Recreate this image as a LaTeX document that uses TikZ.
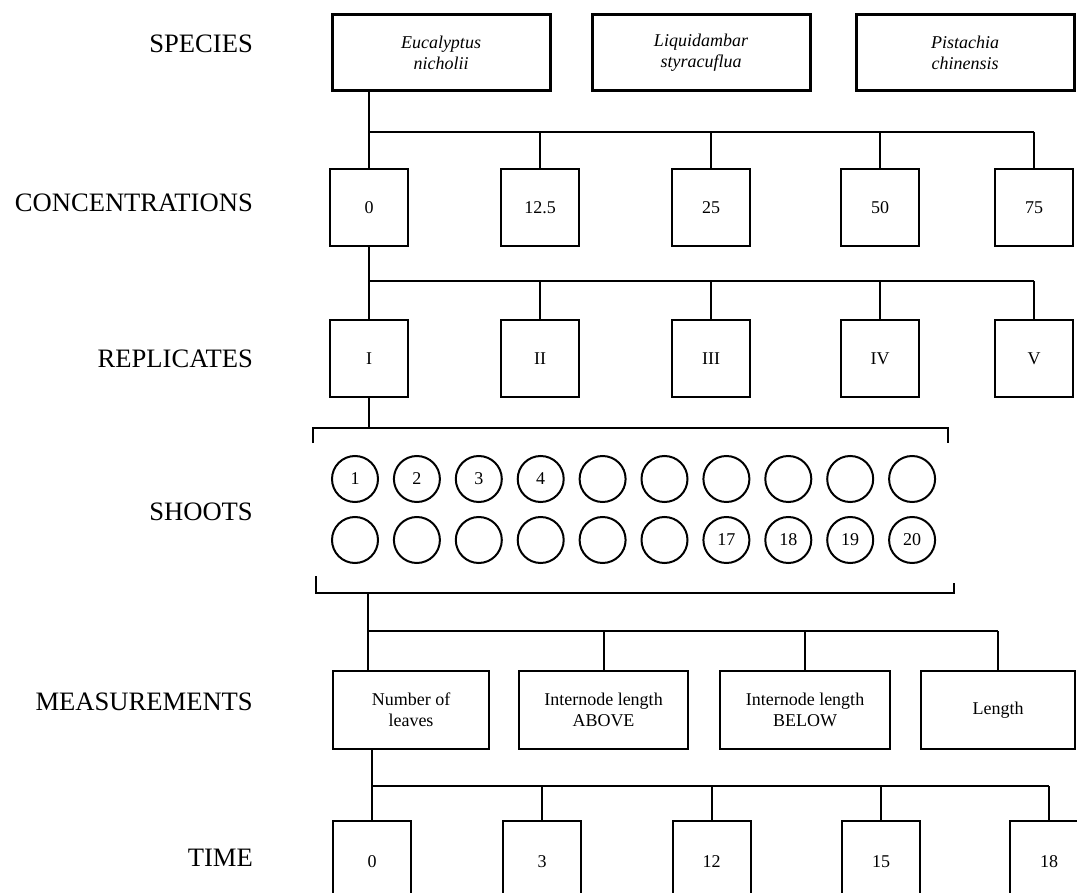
\documentclass[tikz,border=0pt]{standalone}
\usepackage{fontspec}
\setmainfont{Liberation Serif}
\begin{document}
\begin{tikzpicture}[x=1pt,y=-1pt,
  lab/.style={anchor=east,font=\fontsize{26.6}{30}\selectfont,inner sep=0pt},
  spbox/.style={draw,line width=3pt,minimum width=218pt,minimum height=76pt,align=center,font=\fontsize{18}{21}\selectfont\itshape,inner sep=0pt},
  sqbox/.style={draw,line width=2pt,minimum width=78pt,minimum height=77pt,font=\fontsize{18}{21}\selectfont,inner sep=0pt},
  tbox/.style={draw,line width=2pt,minimum width=78pt,minimum height=82pt,font=\fontsize{18}{21}\selectfont,inner sep=0pt},
  mbox/.style={draw,line width=2pt,minimum height=78pt,align=center,font=\fontsize{18}{21}\selectfont,inner sep=0pt},
  shoot/.style={draw,circle,line width=2pt,minimum size=46pt,inner sep=0pt,font=\fontsize{18}{21}\selectfont},
  num/.style={font=\fontsize{18}{21}\selectfont,inner sep=0pt},
  conn/.style={line width=2pt}]
\useasboundingbox (0,0) rectangle (1077,893);
\clip (0,0) rectangle (1077,893);

% row labels
\node[lab] (lsp) at (253,44) {SPECIES};
\node[lab] (lco) at (253,203) {CONCENTRATIONS};
\node[lab] (lre) at (253,359) {REPLICATES};
\node[lab] (lsh) at (253,512) {SHOOTS};
\node[lab] (lme) at (253,702) {MEASUREMENTS};
\node[lab] (lti) at (253,858) {TIME};

% species
\node[spbox] (sp1) at (441,53) {Eucalyptus\\nicholii};
\node[spbox] (sp2) at (701,53) {Liquidambar\\styracuflua};
\node[spbox] (sp3) at (965,53) {Pistachia\\chinensis};

% concentrations
\node[sqbox] (c1) at (369,208) {0};
\node[sqbox] (c2) at (540,208) {12.5};
\node[sqbox] (c3) at (711,208) {25};
\node[sqbox] (c4) at (880,208) {50};
\node[sqbox] (c5) at (1034,208) {75};

% replicates
\node[sqbox] (r1) at (369,358.5) {I};
\node[sqbox] (r2) at (540,358.5) {II};
\node[sqbox] (r3) at (711,358.5) {III};
\node[sqbox] (r4) at (880,358.5) {IV};
\node[sqbox] (r5) at (1034,358.5) {V};

% bus levels
\coordinate (y1) at (0,132);
\coordinate (y2) at (0,281);
\coordinate (yb1) at (0,428);
\coordinate (yb2) at (0,593);
\coordinate (y4) at (0,631);
\coordinate (y5) at (0,786);

% species -> concentrations
\draw[conn] (c1.north |- sp1.south) -- (c1.north);
\draw[conn] (c1 |- y1) -- (c5 |- y1);
\foreach \i in {2,...,5} \draw[conn] (c\i |- y1) -- (c\i.north);

% concentrations -> replicates
\draw[conn] (c1.south) -- (r1.north);
\draw[conn] (r1 |- y2) -- (r5 |- y2);
\foreach \i in {2,...,5} \draw[conn] (r\i |- y2) -- (r\i.north);

% shoots
\foreach \i in {0,...,9} {
  \node[shoot] (sa\i) at ({355+61.9*\i},479) {};
  \node[shoot] (sb\i) at ({355+61.9*\i},540) {};
}
\node[num] (n1) at (sa0) {1};
\node[num] (n2) at (sa1) {2};
\node[num] (n3) at (sa2) {3};
\node[num] (n4) at (sa3) {4};
\node[num] (n17) at (sb6) {17};
\node[num] (n18) at (sb7) {18};
\node[num] (n19) at (sb8) {19};
\node[num] (n20) at (sb9) {20};

% brackets
\draw[conn] (r1.south) -- (r1 |- yb1);
\draw[conn] (313,443) -- (313,428) -- (948,428) -- (948,443);
\draw[conn] (316,576) -- (316,593) -- (954,593) -- (954,583);

% measurements
\node[mbox,minimum width=156pt] (m1) at (411,710) {Number of\\leaves};
\node[mbox,minimum width=169pt] (m2) at (603.5,710) {Internode length\\ABOVE};
\node[mbox,minimum width=170pt] (m3) at (805,710) {Internode length\\BELOW};
\node[mbox,minimum width=154pt] (m4) at (998,710) {Length};

\coordinate (j3) at (368,593);
\draw[conn] (j3) -- (j3 |- m1.north);
\draw[conn] (j3 |- y4) -- (m4 |- y4);
\foreach \i in {2,...,4} \draw[conn] (m\i |- y4) -- (m\i.north);

% time
\node[tbox] (t1) at (372,862) {0};
\node[tbox] (t2) at (542,862) {3};
\node[tbox] (t3) at (711.5,862) {12};
\node[tbox] (t4) at (881,862) {15};
\node[tbox] (t5) at (1049,862) {18};

\draw[conn] (t1.north |- m1.south) -- (t1.north);
\draw[conn] (t1 |- y5) -- (t5 |- y5);
\foreach \i in {2,...,5} \draw[conn] (t\i |- y5) -- (t\i.north);
\end{tikzpicture}
\end{document}
